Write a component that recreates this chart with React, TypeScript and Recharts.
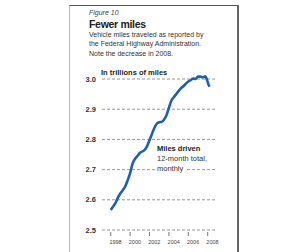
import React from 'react';
import { LineChart, Line, XAxis, YAxis, ReferenceLine } from 'recharts';

// decimal year -> trillions of vehicle miles (12-month total)
const years = [
  1998.0, 1998.25, 1998.5, 1998.75, 1999.0, 1999.25, 1999.5, 1999.75,
  2000.0, 2000.25, 2000.5, 2000.75, 2001.0, 2001.25, 2001.5, 2001.75,
  2002.0, 2002.25, 2002.5, 2002.75, 2003.0, 2003.25, 2003.5, 2003.75,
  2004.0, 2004.25, 2004.5, 2004.75, 2005.0, 2005.25, 2005.5, 2005.75,
  2006.0, 2006.25, 2006.5, 2006.75, 2007.0, 2007.25, 2007.5, 2007.75,
  2007.92, 2008.08, 2008.2,
];
const miles = [
  2.566, 2.578, 2.59, 2.608, 2.622, 2.632, 2.645, 2.665,
  2.688, 2.72, 2.735, 2.745, 2.755, 2.76, 2.765, 2.778,
  2.797, 2.818, 2.838, 2.852, 2.857, 2.858, 2.866, 2.88,
  2.905, 2.928, 2.94, 2.95, 2.96, 2.97, 2.976, 2.985,
  2.992, 2.996, 3.002, 3.0, 3.008, 3.008, 3.006, 3.009,
  2.998, 2.982, 2.975,
];
const yTicks = [2.5, 2.6, 2.7, 2.8, 2.9, 3.0];
const xTicks = [1998, 2000, 2002, 2004, 2006, 2008];

const data = years.map((t, i) => ({ t, v: miles[i] }));

const font = '"Liberation Sans", Arial, sans-serif';

const YearTick = (props: any) => {
  const { x, y, payload } = props;
  return (
    <g>
      <line x1={x} x2={x} y1={y + 2} y2={y + 6} stroke="#777" strokeWidth={1} />
      <text x={x + 4.8} y={y + 14} textAnchor="middle" fontSize={5.5} fill="#444" fontFamily={font}>
        {payload.value}
      </text>
    </g>
  );
};

const abs = (left: number, top: number, extra: React.CSSProperties = {}): React.CSSProperties => ({
  position: 'absolute', left, top, fontFamily: font, whiteSpace: 'nowrap', ...extra,
});

export default function App() {
  return (
    <div style={{ position: 'absolute', left: 0, top: 0, width: 300, height: 252, background: '#fff', overflow: 'hidden' }}>
      {/* frame */}
      <div style={{ position: 'absolute', left: 69, top: 5, width: 167, height: 260, borderTop: '1.5px solid #555', borderLeft: '1px solid #bbb', borderRight: '2px solid #666' }} />

      <div style={abs(89, 9, { fontSize: 7, fontStyle: 'italic', color: '#444' })}>Figure 10</div>
      <div style={abs(89, 18, { fontSize: 10.5, fontWeight: 'bold', color: '#222', letterSpacing: -0.3 })}>Fewer miles</div>
      <div style={abs(89, 30, { fontSize: 7, color: '#333', lineHeight: '9.4px' })}>
        Vehicle miles traveled as reported by<br />
        the Federal Highway Administration.<br />
        Note the decrease in 2008.
      </div>

      <div style={{ position: 'absolute', left: 0, top: 0 }}>
        <LineChart width={300} height={252} data={data} margin={{ top: 73, right: 83, bottom: 2, left: 72 }}>
          {yTicks.map((v) => (
            <ReferenceLine key={v} y={v} stroke="#999" strokeDasharray="3 2" />
          ))}
          <XAxis
            dataKey="t"
            type="number"
            domain={[1997.1, 2008.96]}
            ticks={xTicks}
            axisLine={false}
            tickLine={false}
            tickSize={0}
            tickMargin={0}
            height={20}
            tick={<YearTick />}
            interval={0}
          />
          <YAxis
            type="number"
            domain={[2.5, 3.02]}
            ticks={yTicks}
            axisLine={false}
            tickLine={false}
            tickSize={0}
            tickMargin={6}
            width={30}
            interval={0}
            tickFormatter={(v: number) => v.toFixed(1)}
            tick={{ fontSize: 7.5, fill: '#333', fontWeight: 600, fontFamily: font }}
          />
          <Line
            dataKey="v"
            type="monotone"
            stroke="#1f5fae"
            strokeWidth={2.6}
            dot={false}
            isAnimationActive={false}
          />
        </LineChart>
      </div>

      <div style={abs(101, 68, { fontSize: 7.5, fontWeight: 'bold', color: '#222' })}>In trillions of miles</div>
      <div style={abs(157, 144, { fontSize: 7.5, color: '#333', lineHeight: '10px' })}>
        <b style={{ color: '#222' }}>Miles driven</b><br />
        12-month total,<br />
        <span style={{ background: '#fff', padding: '0 2px', marginLeft: -2 }}>monthly</span>
      </div>
    </div>
  );
}
